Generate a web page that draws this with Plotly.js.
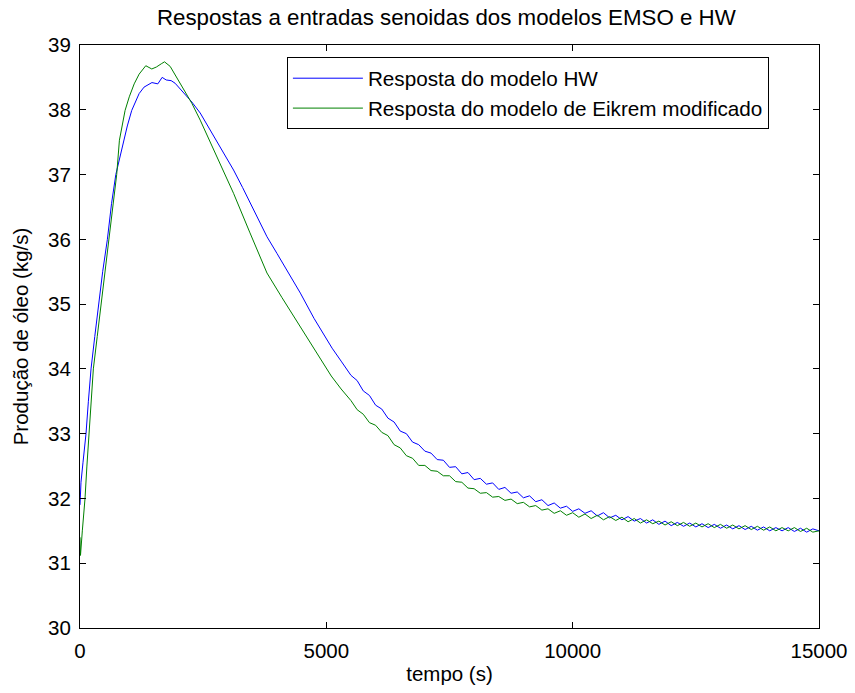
<!DOCTYPE html>
<html>
<head>
<meta charset="utf-8">
<script src="https://cdn.plot.ly/plotly-3.0.1.min.js"></script>
<style>html,body{margin:0;padding:0;background:#fff;}#chart{width:855px;height:693px;}</style>
</head>
<body>
<div id="chart"></div>
<script>
// Resposta do modelo HW (blue)
const tBlue = [0, 20, 60, 100, 122, 170, 224, 300, 373, 460, 556, 640, 727, 800, 882, 960, 1050, 1130, 1200, 1300, 1400, 1460, 1580, 1667, 1750, 1850, 1930, 2000, 2135, 2270, 2440, 2700, 2935, 3117, 3300, 3500, 3795, 4000, 4250, 4473, 4750, 5117, 5300,
  5500, 5625, 5750, 5875, 6000, 6125, 6250, 6375, 6500, 6625, 6750, 6875, 7000, 7125, 7250, 7375,
  7500, 7625, 7750, 7875, 8000, 8125, 8250, 8375, 8500, 8625, 8750, 8875, 9000, 9125, 9250, 9375, 9500, 9625, 9750, 9875, 10000, 10125, 10250, 10375, 10500, 10625, 10750, 10875, 11000, 11125, 11250, 11375, 11500, 11625, 11750, 11875, 12000, 12125, 12250, 12375, 12500, 12625, 12750, 12875, 13000, 13125, 13250, 13375, 13500, 13625, 13750, 13875, 14000, 14125, 14250, 14375, 14500, 14625, 14750, 14875, 15000];
const vBlue = [31.90, 32.25, 32.55, 32.80, 33.00, 33.50, 34.00, 34.50, 35.00, 35.50, 36.00, 36.55, 37.00, 37.25, 37.53, 37.75, 37.99, 38.12, 38.25, 38.35, 38.40, 38.42, 38.40, 38.50, 38.46, 38.45, 38.41, 38.35, 38.25, 38.12, 37.95, 37.62, 37.30, 37.07, 36.80, 36.50, 36.04, 35.78, 35.46, 35.17, 34.78, 34.32, 34.12,
  33.90, 33.82, 33.66, 33.59, 33.44, 33.38, 33.24, 33.18, 33.04, 33.00, 32.87, 32.83, 32.73, 32.70, 32.60, 32.59,
  32.48, 32.49, 32.38, 32.40, 32.29, 32.31, 32.22, 32.24, 32.14, 32.17, 32.08, 32.10, 32.01, 32.04, 31.95, 31.98, 31.89, 31.93, 31.85, 31.88, 31.80, 31.84, 31.77, 31.81, 31.73, 31.78, 31.70, 31.74, 31.67, 31.72, 31.65, 31.69, 31.62, 31.67, 31.60, 31.65, 31.58, 31.63, 31.57, 31.62, 31.56, 31.61, 31.55, 31.60, 31.54, 31.59, 31.53, 31.58, 31.52, 31.57, 31.51, 31.56, 31.50, 31.55, 31.50, 31.55, 31.49, 31.54, 31.48, 31.53, 31.50];

// Resposta do modelo de Eikrem modificado (green)
const tGreen = [0, 10, 47, 102, 140, 183, 230, 271, 350, 427, 510, 597, 670, 745, 800, 860, 915, 1000, 1100, 1200, 1335, 1457, 1550, 1650, 1715, 1830, 1930, 2000, 2135, 2270, 2440, 2700, 2935, 3117, 3450, 3795, 4100, 4473, 4743, 5100, 5300,
  5500, 5625, 5750, 5875, 6000, 6125, 6250, 6375, 6500, 6625, 6750, 6875, 7000, 7125, 7250, 7375,
  7500, 7625, 7750, 7875, 8000, 8125, 8250, 8375, 8500, 8625, 8750, 8875, 9000, 9125, 9250, 9375, 9500, 9625, 9750, 9875, 10000, 10125, 10250, 10375, 10500, 10625, 10750, 10875, 11000, 11125, 11250, 11375, 11500, 11625, 11750, 11875, 12000, 12125, 12250, 12375, 12500, 12625, 12750, 12875, 13000, 13125, 13250, 13375, 13500, 13625, 13750, 13875, 14000, 14125, 14250, 14375, 14500, 14625, 14750, 14875, 15000];
const vGreen = [31.40, 31.12, 31.50, 32.00, 32.50, 33.00, 33.50, 34.00, 34.50, 35.00, 35.55, 36.10, 36.55, 37.00, 37.53, 37.78, 37.99, 38.20, 38.40, 38.55, 38.68, 38.63, 38.66, 38.71, 38.74, 38.67, 38.54, 38.45, 38.28, 38.10, 37.84, 37.40, 36.99, 36.71, 36.10, 35.48, 35.10, 34.65, 34.32, 33.89, 33.69,
  33.51, 33.37, 33.30, 33.17, 33.13, 33.02, 32.97, 32.83, 32.78, 32.66, 32.62, 32.51, 32.51, 32.43, 32.42, 32.35,
  32.35, 32.26, 32.25, 32.16, 32.15, 32.08, 32.09, 32.02, 32.03, 31.97, 31.99, 31.92, 31.94, 31.87, 31.89, 31.82, 31.84, 31.77, 31.81, 31.74, 31.78, 31.71, 31.76, 31.69, 31.74, 31.67, 31.72, 31.66, 31.71, 31.64, 31.69, 31.62, 31.67, 31.61, 31.65, 31.59, 31.64, 31.58, 31.63, 31.57, 31.62, 31.56, 31.61, 31.55, 31.60, 31.54, 31.59, 31.53, 31.58, 31.52, 31.57, 31.51, 31.56, 31.50, 31.55, 31.50, 31.55, 31.49, 31.54, 31.48, 31.50];

const seriesNames = ['Resposta do modelo HW', 'Resposta do modelo de Eikrem modificado'];
const xTicks = [0, 5000, 10000, 15000];
const yTicks = [30, 31, 32, 33, 34, 35, 36, 37, 38, 39];

const FONT = 'Liberation Sans, Arial, Helvetica, sans-serif';

const traces = [
  {x: tBlue, y: vBlue, name: seriesNames[0], type: 'scatter', mode: 'lines', line: {color: '#0000ff', width: 1}},
  {x: tGreen, y: vGreen, name: seriesNames[1], type: 'scatter', mode: 'lines', line: {color: '#008000', width: 1}}
];

const axisCommon = {
  showline: true, linecolor: '#000', linewidth: 1, mirror: 'ticks',
  ticks: 'inside', ticklen: 6, tickcolor: '#000', tickwidth: 1,
  showgrid: false, zeroline: false,
  tickfont: {family: FONT, size: 20.5, color: '#000'}
};

const layout = {
  width: 855, height: 693,
  margin: {l: 80, r: 36, t: 45, b: 65},
  paper_bgcolor: '#fff', plot_bgcolor: '#fff',
  font: {family: FONT, size: 20.5, color: '#000'},
  title: {text: 'Respostas a entradas senoidas dos modelos EMSO e HW', font: {family: FONT, size: 22.3, color: '#000'}, x: 0.522, xanchor: 'center', y: 0.975, yanchor: 'middle'},
  xaxis: Object.assign({}, axisCommon, {
    range: [0, 15000], tickvals: xTicks, ticktext: xTicks.map(String),
    title: {text: 'tempo (s)', font: {family: FONT, size: 20.5, color: '#000'}, standoff: 6},
    ticklabelstandoff: 4
  }),
  yaxis: Object.assign({}, axisCommon, {
    range: [30, 39], tickvals: yTicks, ticktext: yTicks.map(String),
    title: {text: 'Produção de óleo (kg/s)', font: {family: FONT, size: 20.5, color: '#000'}, standoff: 13},
    ticklabelstandoff: 4
  }),
  showlegend: true,
  legend: {
    x: 0.28, xanchor: 'left', y: 0.979, yanchor: 'top',
    bgcolor: '#fff', bordercolor: '#000', borderwidth: 1,
    font: {family: FONT, size: 20.7, color: '#000'},
    itemwidth: 70, tracegroupgap: 0
  }
};

Plotly.newPlot('chart', traces, layout, {displayModeBar: false, staticPlot: true});
</script>
</body>
</html>
